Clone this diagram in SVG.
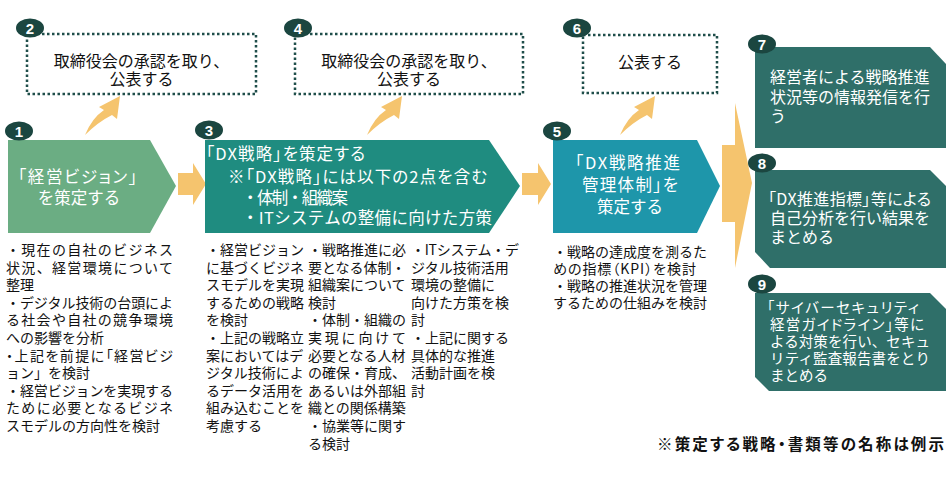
<svg xmlns="http://www.w3.org/2000/svg" width="950" height="480" viewBox="0 0 950 480">
<style>
text{font-family:"Noto Sans CJK JP","Noto Sans",sans-serif;}
.p{font-feature-settings:"palt";}
.dot{fill:#fff;stroke:#1f4e4a;stroke-width:2.5;stroke-dasharray:2.5 2.5;}
.badge{fill:#1b4640;}
.bn{fill:#fff;font-size:15px;font-weight:bold;text-anchor:middle;font-family:"Liberation Sans","Noto Sans",sans-serif;}
.arr{fill:#f5c46e;}
.wt{fill:#fff;font-size:16.5px;}
.wt16{fill:#fff;font-size:16px;}
.wt15{fill:#fff;font-size:14.5px;}
.bk{fill:#111;font-size:16px;text-anchor:middle;}
.body{fill:#111;font-size:14px;}
.note{fill:#111;font-size:15.5px;font-weight:bold;text-anchor:end;}
.dk{fill:#2f6f69;}
</style>

<g id="connectors">
  <polygon class="arr" points="178,173 193,173 193,163 206,184 193,205 193,195 178,195"/>
  <polygon class="arr" points="522,173 538,173 538,163 551,184 538,205 538,195 522,195"/>
  <polygon class="arr" points="722,145 735,145 735,103 752,183 735,268 735,222 722,222"/>
  <path class="arr" d="M85,135 Q92,118 104,110 L99,107 L120,96 L117,119 L112,115 Q98,122 85,135 Z"/>
  <path class="arr" transform="translate(282,0)" d="M85,135 Q92,118 104,110 L99,107 L120,96 L117,119 L112,115 Q98,122 85,135 Z"/>
  <path class="arr" transform="translate(535,0)" d="M85,135 Q92,118 104,110 L99,107 L120,96 L117,119 L112,115 Q98,122 85,135 Z"/>
</g>

<g id="node1">
  <polygon fill="#6bad83" points="8,140 150,140 176,186 150,233 8,233"/>
  <text class="wt p" x="18" y="183" textLength="119">「経営ビジョン」</text>
  <text class="wt" x="79" y="204" text-anchor="middle">を策定する</text>
  <ellipse class="badge" cx="19" cy="131" rx="14" ry="9.5"/>
  <text class="bn" x="19" y="136.5">1</text>
</g>

<g id="node1-detail">
  <text class="body" x="6" y="255" textLength="167">・現在の自社のビジネス</text>
  <text class="body" x="6" y="272.6" textLength="167">状況、経営環境について</text>
  <text class="body" x="6" y="290.2">整理</text>
  <text class="body" x="6" y="307.8" textLength="167">・デジタル技術の台頭によ</text>
  <text class="body" x="6" y="325.4" textLength="167">る社会や自社の競争環境</text>
  <text class="body" x="6" y="343">への影響を分析</text>
  <text class="body p" x="6" y="360.6" textLength="167">・上記を前提に「経営ビジ</text>
  <text class="body" x="6" y="378.2">ョン」を検討</text>
  <text class="body" x="6" y="395.8" textLength="167">・経営ビジョンを実現する</text>
  <text class="body" x="6" y="413.4" textLength="167">ために必要となるビジネ</text>
  <text class="body" x="6" y="431">スモデルの方向性を検討</text>
</g>

<g id="node2">
  <rect class="dot" x="27" y="34" width="229" height="60"/>
  <text class="bk" x="141.5" y="67">取締役会の承認を取り、</text>
  <text class="bk" x="141.5" y="85">公表する</text>
  <ellipse class="badge" cx="30" cy="28" rx="14" ry="9.5"/>
  <text class="bn" x="30" y="33.5">2</text>
</g>

<g id="node3">
  <polygon fill="#1f8c80" points="205,140 489,140 520,186 489,233 205,233"/>
  <text class="wt p" x="206" y="160" textLength="159">「DX戦略」を策定する</text>
  <text class="wt p" x="228" y="183" textLength="259">※「DX戦略」には以下の2点を含む</text>
  <text class="wt" x="242" y="204" textLength="106">・体制・組織案</text>
  <text class="wt" x="242" y="224" textLength="250">・ITシステムの整備に向けた方策</text>
  <ellipse class="badge" cx="209" cy="130" rx="14" ry="9.5"/>
  <text class="bn" x="209" y="135.5">3</text>
</g>

<g id="node3-detail">
  <text class="body" x="206" y="255">・経営ビジョン</text>
  <text class="body" x="206" y="272.6">に基づくビジネ</text>
  <text class="body" x="206" y="290.2">スモデルを実現</text>
  <text class="body" x="206" y="307.8">するための戦略</text>
  <text class="body" x="206" y="325.4">を検討</text>
  <text class="body" x="206" y="343">・上記の戦略立</text>
  <text class="body" x="206" y="360.6">案においてはデ</text>
  <text class="body" x="206" y="378.2">ジタル技術によ</text>
  <text class="body" x="206" y="395.8">るデータ活用を</text>
  <text class="body" x="206" y="413.4">組み込むことを</text>
  <text class="body" x="206" y="431">考慮する</text>

  <text class="body" x="308" y="255">・戦略推進に必</text>
  <text class="body" x="308" y="272.6">要となる体制・</text>
  <text class="body" x="308" y="290.2">組織案について</text>
  <text class="body" x="308" y="307.8">検討</text>
  <text class="body" x="308" y="325.4">・体制・組織の</text>
  <text class="body" x="308" y="343" textLength="98">実現に向けて</text>
  <text class="body" x="308" y="360.6">必要となる人材</text>
  <text class="body" x="308" y="378.2">の確保・育成、</text>
  <text class="body" x="308" y="395.8">あるいは外部組</text>
  <text class="body" x="308" y="413.4">織との関係構築</text>
  <text class="body" x="308" y="431">・協業等に関す</text>
  <text class="body" x="308" y="448.6">る検討</text>

  <text class="body" x="411" y="255" textLength="108">・ITシステム・デ</text>
  <text class="body" x="411" y="272.6">ジタル技術活用</text>
  <text class="body" x="411" y="290.2">環境の整備に</text>
  <text class="body" x="411" y="307.8">向けた方策を検</text>
  <text class="body" x="411" y="325.4">討</text>
  <text class="body" x="411" y="343">・上記に関する</text>
  <text class="body" x="411" y="360.6">具体的な推進</text>
  <text class="body" x="411" y="378.2">活動計画を検</text>
  <text class="body" x="411" y="395.8">討</text>
</g>

<g id="node4">
  <rect class="dot" x="295" y="34" width="228" height="60"/>
  <text class="bk" x="409" y="67">取締役会の承認を取り、</text>
  <text class="bk" x="409" y="85">公表する</text>
  <ellipse class="badge" cx="298" cy="28" rx="14" ry="9.5"/>
  <text class="bn" x="298" y="33.5">4</text>
</g>

<g id="node5">
  <polygon fill="#1e96aa" points="553,140 697,140 720,186 697,233 553,233"/>
  <text class="wt p" x="575" y="169" textLength="105">「DX戦略推進</text>
  <text class="wt p" x="582" y="191" textLength="96">管理体制」を</text>
  <text class="wt" x="630" y="213" text-anchor="middle">策定する</text>
  <ellipse class="badge" cx="557" cy="131" rx="14" ry="9.5"/>
  <text class="bn" x="557" y="136.5">5</text>
</g>

<g id="node5-detail">
  <text class="body" x="553" y="257">・戦略の達成度を測るた</text>
  <text class="body p" x="553" y="274" textLength="143">めの指標（KPI）を検討</text>
  <text class="body" x="553" y="291">・戦略の推進状況を管理</text>
  <text class="body" x="553" y="308">するための仕組みを検討</text>
</g>

<g id="node6">
  <rect class="dot" x="583" y="35" width="134" height="58"/>
  <text class="bk" x="650" y="68">公表する</text>
  <ellipse class="badge" cx="577" cy="28" rx="14" ry="9.5"/>
  <text class="bn" x="577" y="33.5">6</text>
</g>

<g id="node7">
  <polygon class="dk" points="755,47 930,47 946,64 946,148 755,148"/>
  <text class="wt16" x="770" y="83">経営者による戦略推進</text>
  <text class="wt16" x="770" y="103">状況等の情報発信を行</text>
  <text class="wt16" x="770" y="122">う</text>
  <ellipse class="badge" cx="762" cy="44" rx="14" ry="9.5"/>
  <text class="bn" x="762" y="49.5">7</text>
</g>

<g id="node8">
  <polygon class="dk" points="755,170 930,170 946,186 946,268 770,268 755,252"/>
  <text class="wt16 p" x="768" y="205" textLength="163">「DX推進指標」等による</text>
  <text class="wt16" x="770" y="224">自己分析を行い結果を</text>
  <text class="wt16" x="770" y="243">まとめる</text>
  <ellipse class="badge" cx="762" cy="163" rx="14" ry="9.5"/>
  <text class="bn" x="762" y="168.5">8</text>
</g>

<g id="node9">
  <polygon class="dk" points="755,293 930,293 946,309 946,391 769,391 755,377"/>
  <text class="wt15 p" x="767" y="313" textLength="152">「サイバーセキュリティ</text>
  <text class="wt15 p" x="770" y="330" textLength="154">経営ガイドライン」等に</text>
  <text class="wt15" x="770" y="347" textLength="160">よる対策を行い、セキュ</text>
  <text class="wt15" x="770" y="364" textLength="160">リティ監査報告書をとり</text>
  <text class="wt15" x="770" y="381">まとめる</text>
  <ellipse class="badge" cx="762" cy="284" rx="14" ry="9.5"/>
  <text class="bn" x="762" y="289.5">9</text>
</g>

<text class="note p" x="944" y="450" textLength="287">※策定する戦略・書類等の名称は例示</text>
</svg>
